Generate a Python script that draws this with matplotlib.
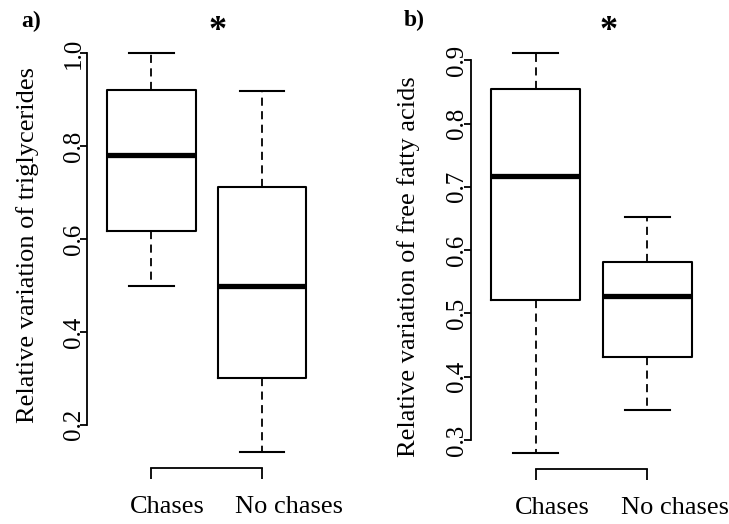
import numpy as np
import matplotlib.pyplot as plt
from matplotlib import transforms

plt.rcParams['font.family'] = ['Liberation Serif', 'DejaVu Serif']

groups = ["Chases", "No chases"]

# a) triglycerides
tg_whislo = [0.50, 0.142]
tg_q1 = [0.618, 0.301]
tg_med = [0.781, 0.500]
tg_q3 = [0.921, 0.712]
tg_whishi = [1.00, 0.919]
tg_ticks = [0.2, 0.4, 0.6, 0.8, 1.0]

# b) free fatty acids
ffa_whislo = [0.280, 0.347]
ffa_q1 = [0.522, 0.431]
ffa_med = [0.717, 0.528]
ffa_q3 = [0.855, 0.581]
ffa_whishi = [0.912, 0.652]
ffa_ticks = [0.3, 0.4, 0.5, 0.6, 0.7, 0.8, 0.9]


def make_stats(lo, q1, med, q3, hi):
    return [dict(whislo=a, q1=b, med=c, q3=d, whishi=e, fliers=[])
            for a, b, c, d, e in zip(lo, q1, med, q3, hi)]


def panel(ax, stats, ticks, ylabel, ylab_xy):
    ax.bxp(stats, positions=[1, 2], widths=0.8, capwidths=0.4,
           boxprops=dict(color="black", linewidth=1.5),
           whiskerprops=dict(color="black", linewidth=1.3, linestyle=(0, (4.5, 3))),
           capprops=dict(color="black", linewidth=1.5),
           medianprops=dict(color="black", linewidth=3.8, solid_capstyle="butt"))
    lo = min(s["whislo"] for s in stats)
    hi = max(s["whishi"] for s in stats)
    pad = 0.04 * (hi - lo)
    ax.set_ylim(lo - pad, hi + pad)
    ax.set_xlim(0.42, 2.58)

    for side in ["top", "right"]:
        ax.spines[side].set_visible(False)
    ax.spines["left"].set_bounds(ticks[0], ticks[-1])
    ax.spines["bottom"].set_bounds(1, 2)
    ax.spines["left"].set_linewidth(1.3)
    ax.spines["bottom"].set_linewidth(1.3)

    ax.set_yticks(ticks)
    ax.set_yticklabels(["%.1f" % t for t in ticks], rotation=90, va="center")
    ax.tick_params(axis="y", direction="out", length=5, width=1.3, pad=-3, labelsize=18)
    ax.set_xticks([1, 2])
    ax.set_xticklabels(["", ""])
    ax.tick_params(axis="x", direction="out", length=8, width=1.3)

    # group labels (original text sits a little right of the tick)
    trans = transforms.blended_transform_factory(ax.transData, ax.transAxes)
    for x, shift, g in zip([1, 2], [0.145, 0.245], groups):
        ax.text(x + shift, -0.092, g, transform=trans, ha="center", va="center", fontsize=19)

    ax.set_ylabel(ylabel, fontsize=19, va="center")
    ax.yaxis.set_label_coords(*ylab_xy)


fig = plt.figure(figsize=(7.29, 5.24), dpi=100)
ax1 = fig.add_axes([0.1199, 0.1074, 0.3273, 0.821])
ax2 = fig.add_axes([0.646, 0.1055, 0.3307, 0.8245])

panel(ax1, make_stats(tg_whislo, tg_q1, tg_med, tg_q3, tg_whishi), tg_ticks,
      "Relative variation of triglycerides", (-0.25, 0.518))
panel(ax2, make_stats(ffa_whislo, ffa_q1, ffa_med, ffa_q3, ffa_whishi), ffa_ticks,
      "Relative variation of free fatty acids", (-0.26, 0.467))

fig.text(31 / 729, 1 - 21 / 524, "a)", ha="center", va="center", fontsize=17, fontweight="bold")
fig.text(414 / 729, 1 - 20 / 524, "b)", ha="center", va="center", fontsize=17, fontweight="bold")
fig.text(218 / 729, 1 - 32 / 524, "*", ha="center", va="center", fontsize=26, fontweight="bold")
fig.text(609 / 729, 1 - 32 / 524, "*", ha="center", va="center", fontsize=26, fontweight="bold")

plt.savefig("out.png", dpi=100)
